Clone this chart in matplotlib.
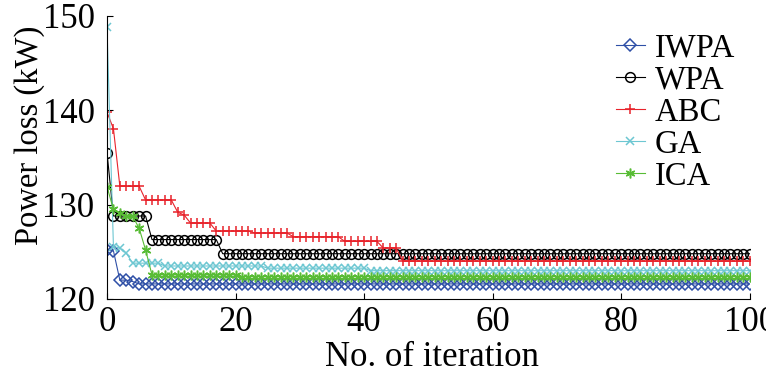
import matplotlib
matplotlib.use('Agg')
import matplotlib.pyplot as plt
import numpy as np

plt.rcParams['font.family'] = ['Liberation Serif', 'DejaVu Serif']

# Iterations 0..100
iterations = np.arange(0, 101)

# Power loss (kW) per iteration
iwpa = [125.2, 125.1, 122.0, 122.0, 121.85] + [121.6] * 96
wpa = [135.5] + [128.8] * 6 + [126.3] * 11 + [124.8] * 83
abc = ([139.8, 138.05] + [131.95] * 4 + [130.5] * 5 + [129.2, 128.9]
       + [128.05] * 4 + [127.2] * 6 + [127.0] * 6 + [126.6] * 8
       + [126.1] * 6 + [125.4] * 3 + [124.0] * 55)
ga = [148.8, 125.55, 125.4, 124.85] + [123.8] * 5 + [123.5] * 16 + [123.27] * 16 + [123.0] * 60
ica = [131.9, 129.5, 129.1, 128.76, 128.76, 127.5, 125.2] + [122.55] * 14 + [122.35] * 80

series_names = ['IWPA', 'WPA', 'ABC', 'GA', 'ICA']
series_data = [iwpa, wpa, abc, ga, ica]
colors = ['#2E4FA6', '#000000', '#E8232B', '#6DC7D2', '#58BC35']
markers = ['D', 'o', '+', 'x', (6, 2, 0)]
msizes = [6.5, 7.0, 7.5, 5.5, 7.0]

fig = plt.figure(figsize=(7.66, 3.77), dpi=100)
ax = fig.add_axes([0.1397, 0.2069, 0.839, 0.7507])

for name, vals, c, m, ms in zip(series_names, series_data, colors, markers, msizes):
    ax.plot(iterations, vals, color=c, marker=m, markersize=ms,
            markerfacecolor='none', markeredgecolor=c, markeredgewidth=1.1,
            linewidth=0.8, label=name)

ax.set_xlim(0, 100)
ax.set_ylim(120, 150)
ax.set_xticks([0, 20, 40, 60, 80, 100])
ax.set_yticks([120, 130, 140, 150])
ax.tick_params(direction='in', labelsize=25, length=4, width=0.8)
ax.tick_params(axis='x', pad=5)
ax.tick_params(axis='y', pad=9)
ax.spines['top'].set_visible(False)
ax.spines['right'].set_visible(False)
ax.set_xlabel('No. of iteration', fontsize=25)
ax.set_ylabel('Power loss (kW)', fontsize=23.5)
ax.xaxis.set_label_coords(0.505, -0.15)
ax.yaxis.set_label_coords(-0.096, 0.58)

ax.legend(loc='upper right', bbox_to_anchor=(1.008, 1.01), frameon=False, fontsize=23.5,
          handlelength=0.9, handletextpad=0.3, labelspacing=0.05, borderaxespad=0.2)

fig.savefig('out.png', dpi=100)
